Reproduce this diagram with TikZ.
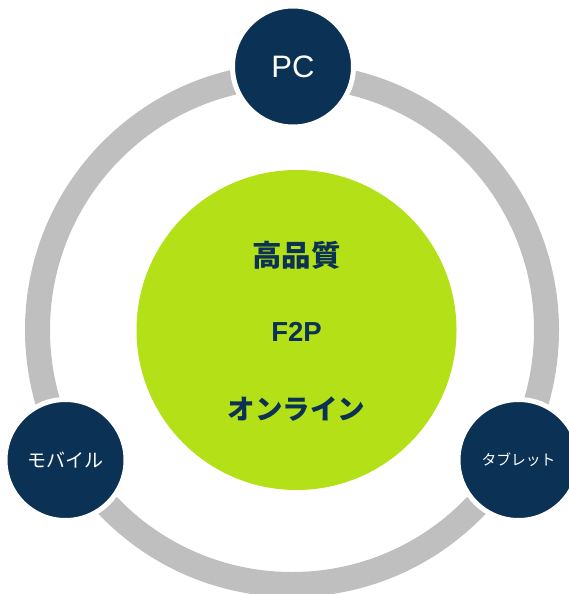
\documentclass[tikz,border=0pt]{standalone}
\usepackage{fontspec}
\setmainfont{Liberation Sans}
\newfontfamily\jp{Noto Sans CJK JP}
\definecolor{navy}{HTML}{0B3154}
\definecolor{lime}{HTML}{B3E016}
\definecolor{ringgray}{HTML}{BFBFBF}
\begin{document}
\begin{tikzpicture}[x=1pt,y=-1pt,
  device/.style={circle,fill=navy,draw=white,line width=5pt,minimum size=121pt,inner sep=0pt,text=white},
  core/.style={circle,fill=lime,minimum size=320pt,inner sep=0pt},
  coretext/.style={text=navy,font=\jp\bfseries\fontsize{29.5}{32}\selectfont}]
\useasboundingbox (0,0) rectangle (569,594);
\draw[ringgray,line width=25pt] (292,330) circle[radius=254.5];
\node[core] (c) at (296.5,330) {};
\node[coretext] (t1) at (296.5,255) {高品質};
\node[text=navy,font=\bfseries\fontsize{27.5}{30}\selectfont] (t2) at (296.5,332) {F2P};
\node[coretext,font=\jp\bfseries\fontsize{27.5}{30}\selectfont] (t3) at (296.5,409) {オンライン};
\node[device,font=\fontsize{31}{34}\selectfont] (pc) at (293,66.5) {PC};
\node[device,font=\jp\fontsize{19}{22}\selectfont] (mob) at (65.5,460) {モバイル};
\node[device,font=\jp\fontsize{14.8}{17}\selectfont] (tab) at (518.5,460) {タブレット};
\end{tikzpicture}
\end{document}
